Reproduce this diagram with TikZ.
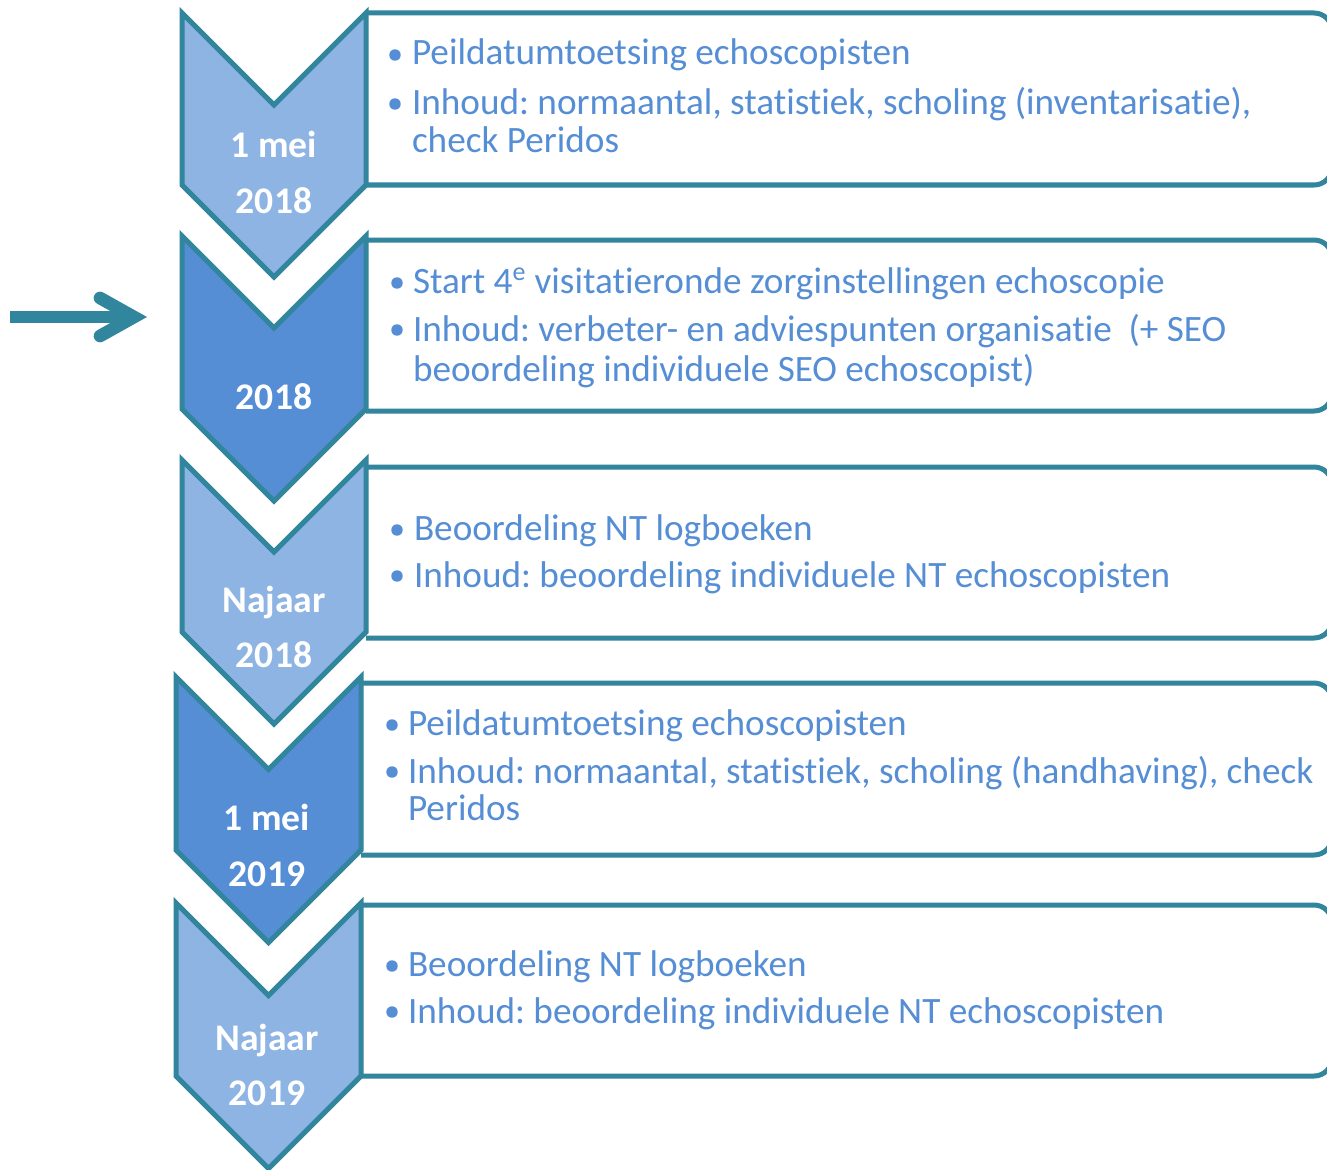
\documentclass[tikz,border=0pt]{standalone}
\usepackage{fontspec}
\setmainfont{Carlito}[Ligatures=NoCommon]
\usetikzlibrary{calc}
\definecolor{edgeteal}{HTML}{31859C}
\definecolor{lightfill}{HTML}{8EB4E3}
\definecolor{darkfill}{HTML}{558ED5}
\definecolor{txtblue}{HTML}{558ED5}
\begin{document}
\frenchspacing
\begin{tikzpicture}[x=0.75pt,y=-0.75pt,
  chev/.style={draw=edgeteal, line width=3.75pt, line join=miter},
  infobox/.style={draw=edgeteal, fill=white, line width=3.75pt, rounded corners=13.5pt},
  txt/.style={anchor=base west, inner sep=0pt, outer sep=0pt, text=txtblue, font=\fontsize{27.9}{31}\selectfont},
  bul/.style={circle, fill=txtblue, inner sep=0pt, outer sep=0pt, minimum size=8.6pt},
  lab/.style={anchor=base, inner sep=0pt, outer sep=0pt, text=white, font=\bfseries\fontsize{28.2}{32}\selectfont},
  arrowshaft/.style={draw=edgeteal, line width=9pt},
  arrowhd/.style={draw=edgeteal, line width=9.5pt, line cap=round, line join=miter}]
\useasboundingbox (0,0) rectangle (1327,1170);
\fill[white] (0,0) rectangle (1327,1170);

% boxes
\draw[infobox] (366,13) -- (1332,13) -- (1332,185) -- (366,185);
\draw[infobox] (366,240) -- (1332,240) -- (1332,411) -- (366,411);
\draw[infobox] (366,467) -- (1332,467) -- (1332,638) -- (366,638);
\draw[infobox] (361,683) -- (1332,683) -- (1332,855) -- (361,855);
\draw[infobox] (361,905) -- (1332,905) -- (1332,1076) -- (361,1076);

% chevrons
\draw[chev, fill=lightfill] (182,13) -- (274,105) -- (366,13) -- (366,185) -- (274,277) -- (182,185) -- cycle;
\draw[chev, fill=darkfill] (182,236) -- (274,328) -- (366,236) -- (366,409) -- (274,501) -- (182,409) -- cycle;
\draw[chev, fill=lightfill] (182,460) -- (274,552) -- (366,460) -- (366,632) -- (274,724) -- (182,632) -- cycle;
\draw[chev, fill=darkfill] (176,677) -- (268.5,769.5) -- (361,677) -- (361,850) -- (268.5,942.5) -- (176,850) -- cycle;
\draw[chev, fill=lightfill] (176,903) -- (268.5,995.5) -- (361,903) -- (361,1076) -- (268.5,1168.5) -- (176,1076) -- cycle;

% chevron labels
\node[lab] (c1a) at (274,157) {1 mei};
\node[lab] (c1b) at (274,213) {2018};
\node[lab] (c2a) at (274,409) {2018};
\node[lab] (c3a) at (274,612) {Najaar};
\node[lab] (c3b) at (274,667) {2018};
\node[lab] (c4a) at (267,830) {1 mei};
\node[lab] (c4b) at (267,886) {2019};
\node[lab] (c5a) at (267,1050) {Najaar};
\node[lab] (c5b) at (267,1105) {2019};

% box 1
\node[bul] (b1p1) at (395,55) {};
\node[txt] (b1t1) at (412,65) {Peildatumtoetsing echoscopisten};
\node[bul] (b1p2) at (395,104) {};
\node[txt] (b1t2) at (412,115) {Inhoud: normaantal, statistiek, scholing (inventarisatie),};
\node[txt] (b1t3) at (412,152) {check Peridos};

% box 2
\node[bul] (b2p1) at (397,283) {};
\node[txt] (b2t1) at (413,293) {Start 4\textsuperscript{e} visitatieronde zorginstellingen echoscopie};
\node[bul] (b2p2) at (397,330) {};
\node[txt] (b2t2) at (413,341) {Inhoud: verbeter- en adviespunten organisatie \ (+ SEO};
\node[txt] (b2t3) at (413,381) {beoordeling individuele SEO echoscopist)};

% box 3
\node[bul] (b3p1) at (397,530) {};
\node[txt] (b3t1) at (414,540) {Beoordeling NT logboeken};
\node[bul] (b3p2) at (397,576) {};
\node[txt] (b3t2) at (414,587) {Inhoud: beoordeling individuele NT echoscopisten};

% box 4
\node[bul] (b4p1) at (392,725) {};
\node[txt] (b4t1) at (408,735) {Peildatumtoetsing echoscopisten};
\node[bul] (b4p2) at (392,772) {};
\node[txt] (b4t2) at (408,783) {Inhoud: normaantal, statistiek, scholing (handhaving), check};
\node[txt] (b4t3) at (408,820) {Peridos};

% box 5
\node[bul] (b5p1) at (392,966) {};
\node[txt] (b5t1) at (408,976) {Beoordeling NT logboeken};
\node[bul] (b5p2) at (392,1012) {};
\node[txt] (b5t2) at (408,1023) {Inhoud: beoordeling individuele NT echoscopisten};

% arrow
\coordinate (atail) at (10,317);
\coordinate (ahead) at (134,317);
\draw[arrowshaft] (atail) -- ($(ahead)+(-6,0)$);
\draw[arrowhd] ($(ahead)+(-34,-19)$) -- (ahead) -- ($(ahead)+(-34,19)$);
\end{tikzpicture}
\end{document}
